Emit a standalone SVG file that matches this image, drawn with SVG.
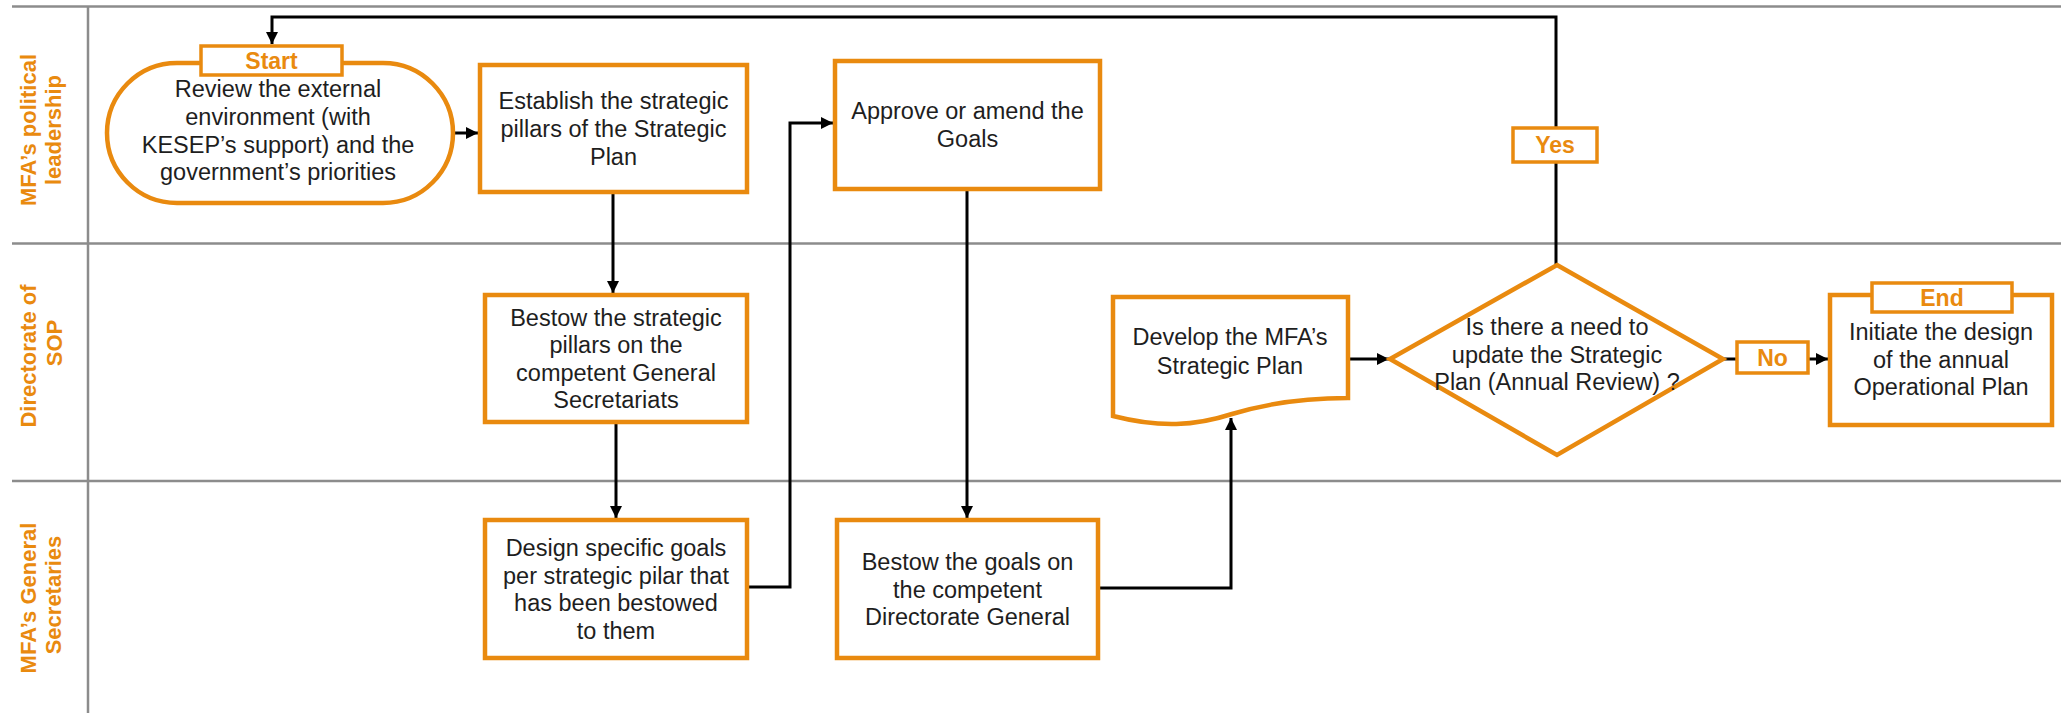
<svg xmlns="http://www.w3.org/2000/svg" width="2061" height="713" viewBox="0 0 2061 713">
<style>
  .lane { stroke: #8c8c8c; stroke-width: 2.5; fill: none; }
  .box { fill: #ffffff; stroke: #E98A0F; stroke-width: 4.5; }
  .tag { fill: #ffffff; stroke: #E98A0F; stroke-width: 3.5; }
  .txt { font-family: "Liberation Sans", Arial, sans-serif; font-size: 23.5px; fill: #1e1e1e; text-anchor: middle; }
  .lbl { font-family: "Liberation Sans", Arial, sans-serif; font-size: 23px; font-weight: bold; fill: #E98A0F; text-anchor: middle; }
  .lanelbl { font-family: "Liberation Sans", Arial, sans-serif; font-size: 22px; font-weight: bold; fill: #E98A0F; text-anchor: middle; }
  .conn { stroke: #000000; stroke-width: 3; fill: none; }
</style>
<defs>
  <marker id="arrow" viewBox="0 0 10 10" refX="10" refY="5" markerWidth="12" markerHeight="12" markerUnits="userSpaceOnUse" orient="auto">
    <path d="M0,0 L10,5 L0,10 z" fill="#000000"/>
  </marker>
</defs>
<rect width="2061" height="713" fill="#ffffff"/>

<g id="swimlanes">
  <line class="lane" x1="12" y1="6.5" x2="2061" y2="6.5"/>
  <line class="lane" x1="12" y1="243.5" x2="2061" y2="243.5"/>
  <line class="lane" x1="12" y1="481" x2="2061" y2="481"/>
  <line class="lane" x1="88" y1="6.5" x2="88" y2="713"/>
  <g id="lane-political">
    <text class="lanelbl" transform="translate(36,130) rotate(-90)">MFA’s political</text>
    <text class="lanelbl" transform="translate(61,130) rotate(-90)">leadership</text>
  </g>
  <g id="lane-sop">
    <text class="lanelbl" transform="translate(36,356) rotate(-90)">Directorate of</text>
    <text class="lanelbl" transform="translate(62,343) rotate(-90)">SOP</text>
  </g>
  <g id="lane-secretaries">
    <text class="lanelbl" transform="translate(36,598) rotate(-90)">MFA’s General</text>
    <text class="lanelbl" transform="translate(61,595) rotate(-90)">Secretaries</text>
  </g>
</g>

<g id="connectors">
  <path class="conn" d="M453,133 H478" marker-end="url(#arrow)"/>
  <path class="conn" d="M613,192 V293" marker-end="url(#arrow)"/>
  <path class="conn" d="M616,422 V518" marker-end="url(#arrow)"/>
  <path class="conn" d="M747,587 H790 V123 H833" marker-end="url(#arrow)"/>
  <path class="conn" d="M967,189 V518" marker-end="url(#arrow)"/>
  <path class="conn" d="M1098,588 H1231 V418" marker-end="url(#arrow)"/>
  <path class="conn" d="M1348,359 H1389" marker-end="url(#arrow)"/>
  <path class="conn" d="M1723,359 H1737"/>
  <path class="conn" d="M1808,359 H1828" marker-end="url(#arrow)"/>
  <path class="conn" d="M1556,265 V17 H272 V44" marker-end="url(#arrow)"/>
</g>

<g id="start">
  <rect class="box" x="107" y="63" width="346" height="140" rx="70" ry="70"/>
  <rect class="tag" x="201" y="46" width="141" height="29"/>
  <text class="lbl" x="271.5" y="69">Start</text>
  <text class="txt" x="278" y="97">Review the external</text>
  <text class="txt" x="278" y="125">environment (with</text>
  <text class="txt" x="278" y="152.5">KESEP’s support) and the</text>
  <text class="txt" x="278" y="180">government’s priorities</text>
</g>

<g id="establish">
  <rect class="box" x="480" y="65" width="267" height="127"/>
  <text class="txt" x="613.5" y="109">Establish the strategic</text>
  <text class="txt" x="613.5" y="137">pillars of the Strategic</text>
  <text class="txt" x="613.5" y="164.5">Plan</text>
</g>

<g id="approve">
  <rect class="box" x="835" y="61" width="265" height="128"/>
  <text class="txt" x="967.5" y="119">Approve or amend the</text>
  <text class="txt" x="967.5" y="147">Goals</text>
</g>

<g id="bestow-pillars">
  <rect class="box" x="485" y="295" width="262" height="127"/>
  <text class="txt" x="616" y="325.5">Bestow the strategic</text>
  <text class="txt" x="616" y="353">pillars on the</text>
  <text class="txt" x="616" y="380.5">competent General</text>
  <text class="txt" x="616" y="408">Secretariats</text>
</g>

<g id="design">
  <rect class="box" x="485" y="520" width="262" height="138"/>
  <text class="txt" x="616" y="556">Design specific goals</text>
  <text class="txt" x="616" y="583.5">per strategic pilar that</text>
  <text class="txt" x="616" y="611">has been bestowed</text>
  <text class="txt" x="616" y="638.5">to them</text>
</g>

<g id="bestow-goals">
  <rect class="box" x="837" y="520" width="261" height="138"/>
  <text class="txt" x="967.5" y="570">Bestow the goals on</text>
  <text class="txt" x="967.5" y="597.5">the competent</text>
  <text class="txt" x="967.5" y="625">Directorate General</text>
</g>

<g id="develop">
  <path class="box" d="M1113,297 H1348 V398 C1300,398 1265,404 1232,414 C1195,426 1160,428 1113,416 Z"/>
  <text class="txt" x="1230" y="345">Develop the MFA’s</text>
  <text class="txt" x="1230" y="373.5">Strategic Plan</text>
</g>

<g id="decision">
  <path class="box" d="M1557,265 L1723,359 L1557,455 L1390,359 Z"/>
  <text class="txt" x="1557" y="335">Is there a need to</text>
  <text class="txt" x="1557" y="363">update the Strategic</text>
  <text class="txt" x="1557" y="390">Plan (Annual Review) ?</text>
</g>

<g id="yes-label">
  <rect class="tag" x="1513" y="128" width="84" height="34"/>
  <text class="lbl" x="1555" y="153">Yes</text>
</g>

<g id="no-label">
  <rect class="tag" x="1737" y="342" width="71" height="31"/>
  <text class="lbl" x="1772.5" y="366">No</text>
</g>

<g id="end">
  <rect class="box" x="1830" y="295" width="222" height="130"/>
  <rect class="tag" x="1872" y="283" width="140" height="29"/>
  <text class="lbl" x="1942" y="305.5">End</text>
  <text class="txt" x="1941" y="340">Initiate the design</text>
  <text class="txt" x="1941" y="368">of the annual</text>
  <text class="txt" x="1941" y="395">Operational Plan</text>
</g>
</svg>
